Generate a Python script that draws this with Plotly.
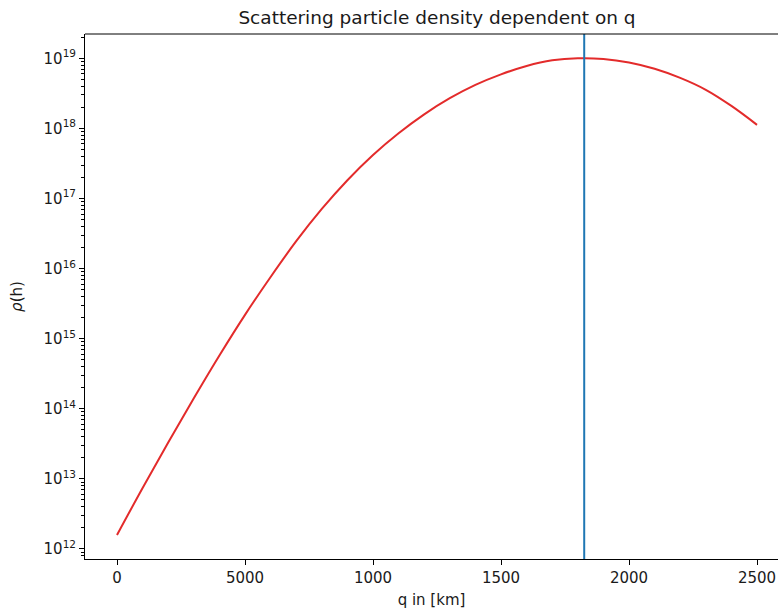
import plotly.graph_objects as go

# Data
q_km = [0, 100, 200, 300, 400, 500, 600, 700, 800, 900, 1000, 1100, 1200, 1300,
        1400, 1500, 1600, 1700, 1800, 1900, 2000, 2100, 2200, 2300, 2400, 2500]
log_rho = [12.20, 12.87, 13.52, 14.15, 14.76, 15.34, 15.88, 16.39, 16.85, 17.26,
           17.62, 17.93, 18.20, 18.43, 18.62, 18.77, 18.89, 18.97, 19.00, 18.99,
           18.94, 18.85, 18.72, 18.55, 18.32, 18.05]
rho = [10.0 ** v for v in log_rho]
q_peak = 1825

x_tickvals = [0, 500, 1000, 1500, 2000, 2500]
x_ticktext = ["0", "5000", "1000", "1500", "2000", "2500"]
y_exps = [12, 13, 14, 15, 16, 17, 18, 19]

font = "DejaVu Sans, Arial, sans-serif"
txt = "#1a1a1a"

fig = go.Figure()
fig.add_trace(go.Scatter(x=q_km, y=rho, mode="lines",
                         line=dict(color="#e32b2b", width=2, shape="spline", smoothing=1.0),
                         showlegend=False))

fig.add_shape(type="line", xref="x", yref="paper", x0=q_peak, x1=q_peak, y0=0, y1=1,
              line=dict(color="#1f77b4", width=2))
fig.add_shape(type="line", xref="paper", yref="paper", x0=0, x1=1, y0=1, y1=1,
              line=dict(color="black", width=1))

minor_vals = [float(m) * 10.0 ** e for e in range(11, 20) for m in range(2, 10)]

fig.update_layout(
    width=778, height=612,
    margin=dict(l=85, r=0, t=34, b=53),
    paper_bgcolor="white", plot_bgcolor="white",
    font=dict(family=font, size=15, color=txt),
    title=dict(text="Scattering particle density dependent on q", x=437 / 778, xref="container",
               xanchor="center", y=1 - 18 / 612, yanchor="middle",
               font=dict(size=18.5, family=font, color=txt)),
    xaxis=dict(range=[-125, 2582], tickmode="array", tickvals=x_tickvals, ticktext=x_ticktext,
               showgrid=False, zeroline=False, showline=True, linecolor="black", linewidth=1,
               ticks="outside", ticklen=5, tickcolor="black", tickfont=dict(size=15),
               title=dict(text="q in [km]", standoff=8, font=dict(size=15))),
    yaxis=dict(type="log", range=[11.857, 19.346], tickmode="array",
               tickvals=[10.0 ** e for e in y_exps],
               ticktext=["10<sup>%d</sup>" % e for e in y_exps],
               showgrid=False, zeroline=False, showline=True, linecolor="black", linewidth=1,
               ticks="outside", ticklen=5, tickcolor="black", tickfont=dict(size=15),
               minor=dict(tickmode="array", tickvals=minor_vals, ticks="outside", ticklen=3,
                          tickcolor="black", showgrid=False),
               title=dict(text="<i>ρ</i>(h)", standoff=17, font=dict(size=15))),
)

fig.write_html("out.html")
